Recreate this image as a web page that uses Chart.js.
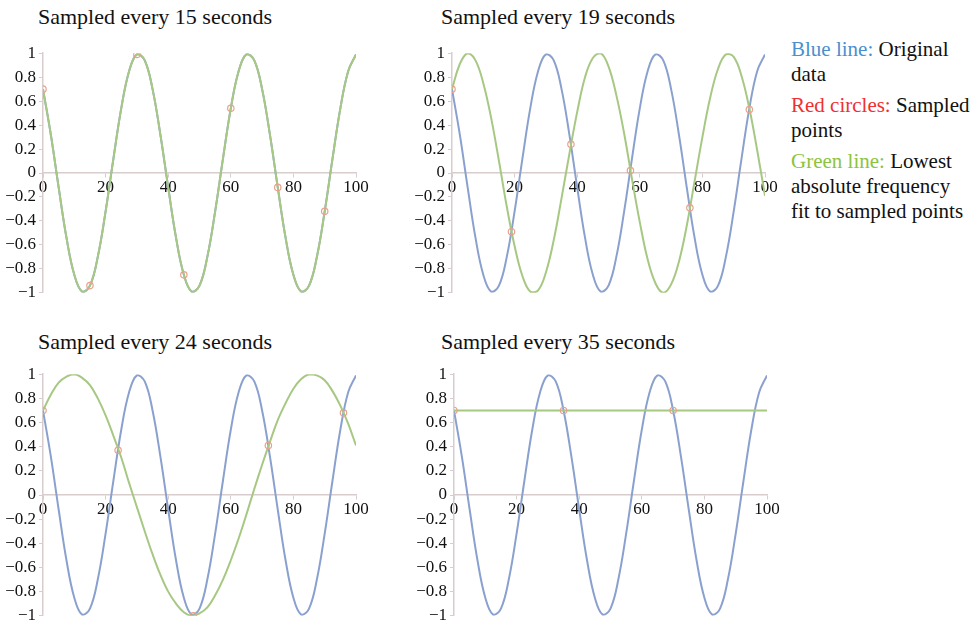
<!DOCTYPE html>
<html>
<head>
<meta charset="utf-8">
<script src="https://cdn.jsdelivr.net/npm/chart.js@4"></script>
<style>
  body { margin: 0; background: #fff; font-family: "Liberation Serif", serif; }
  .panel { position: absolute; width: 382px; height: 266px; }
  .title { position: absolute; font-size: 22px; color: #111; white-space: nowrap; }
  .key { position: absolute; left: 791px; top: 37px; font-size: 21px; line-height: 25px; color: #111; }
  .key p { margin: 0 0 6px 0; }
</style>
</head>
<body>
<div class="title" style="left:38px; top:4px;">Sampled every 15 seconds</div>
<div class="title" style="left:441px; top:4px;">Sampled every 19 seconds</div>
<div class="title" style="left:38px; top:329px;">Sampled every 24 seconds</div>
<div class="title" style="left:441px; top:329px;">Sampled every 35 seconds</div>

<div class="key">
  <p><span style="color:#4a8fd0">Blue line:</span> Original<br>data</p>
  <p><span style="color:#f03030">Red circles:</span> Sampled<br>points</p>
  <p><span style="color:#8cc43c">Green line:</span> Lowest<br>absolute frequency<br>fit to sampled points</p>
</div>

<div class="panel" style="left:-1px; top:40px;"><canvas id="p15"></canvas></div>
<div class="panel" style="left:408px; top:40px;"><canvas id="p19"></canvas></div>
<div class="panel" style="left:-1px; top:361px; height:268px;"><canvas id="p24"></canvas></div>
<div class="panel" style="left:410px; top:361px; height:268px;"><canvas id="p35"></canvas></div>

<script>
// time axis, every 2.5 s from 0 to 100
const times = [
  0, 2.5, 5, 7.5, 10, 12.5, 15, 17.5, 20, 22.5, 25, 27.5, 30, 32.5, 35, 37.5, 40,
  42.5, 45, 47.5, 50, 52.5, 55, 57.5, 60, 62.5, 65, 67.5, 70, 72.5, 75, 77.5, 80,
  82.5, 85, 87.5, 90, 92.5, 95, 97.5, 100
];

// original signal
const original = [
  0.70, 0.32, -0.12, -0.54, -0.85, -0.99, -0.94, -0.70, -0.32, 0.12, 0.54, 0.85, 0.99, 0.94,
  0.70, 0.32, -0.12, -0.54, -0.85, -0.99, -0.94, -0.70, -0.32, 0.12, 0.54, 0.85, 0.99, 0.94,
  0.70, 0.32, -0.12, -0.54, -0.85, -0.99, -0.94, -0.70, -0.32, 0.12, 0.54, 0.85, 0.99
];

// lowest frequency fits
const fit15 = [
  0.70, 0.32, -0.12, -0.54, -0.85, -0.99, -0.94, -0.70, -0.32, 0.12, 0.54, 0.85, 0.99, 0.94,
  0.70, 0.32, -0.12, -0.54, -0.85, -0.99, -0.94, -0.70, -0.32, 0.12, 0.54, 0.85, 0.99, 0.94,
  0.70, 0.32, -0.12, -0.54, -0.85, -0.99, -0.94, -0.70, -0.32, 0.12, 0.54, 0.85, 0.99
];
const fit19 = [
  0.70, 0.91, 1.00, 0.94, 0.75, 0.46, 0.10, -0.28, -0.61, -0.86, -0.99, -0.98, -0.83, -0.56,
  -0.21, 0.16, 0.51, 0.80, 0.96, 1.00, 0.89, 0.65, 0.33, -0.05, -0.41, -0.72, -0.92, -1.00,
  -0.93, -0.74, -0.44, -0.07, 0.30, 0.63, 0.87, 0.99, 0.97, 0.81, 0.54, 0.19, -0.19
];
const fit24 = [
  0.70, 0.83, 0.93, 0.98, 1.00, 0.97, 0.91, 0.80, 0.66, 0.49, 0.31, 0.10, -0.10, -0.30,
  -0.49, -0.66, -0.80, -0.90, -0.97, -1.00, -0.98, -0.93, -0.83, -0.70, -0.54, -0.36, -0.16, 0.05,
  0.25, 0.44, 0.62, 0.76, 0.88, 0.96, 1.00, 0.99, 0.95, 0.86, 0.74, 0.59, 0.41
];
const fit35 = [0.70, 0.70];
const fit35Times = [0, 100];

// sampled points
const samples15T = [0, 15, 30, 45, 60, 75, 90];
const samples15V = [0.70, -0.94, 0.99, -0.85, 0.54, -0.12, -0.32];
const samples19T = [0, 19, 38, 57, 76, 95];
const samples19V = [0.70, -0.49, 0.24, 0.02, -0.29, 0.53];
const samples24T = [0, 24, 48, 72, 96];
const samples24V = [0.70, 0.37, -1.00, 0.41, 0.68];
const samples35T = [0, 35, 70];
const samples35V = [0.70, 0.70, 0.70];

const blue = '#8aa1cf';
const green = '#a7c883';
const red = '#e9a18c';
const axisGrey = '#d8cccc';
const serif = '"Liberation Serif", serif';

const pairs = (xs, ys) => xs.map((x, i) => ({ x: x, y: ys[i] }));

const fmt = v => {
  const r = Math.round(v * 10) / 10;
  if (r === 0) return '0';
  return r.toString().replace('-', '\u2212');
};

const drawPanel = (id, fitT, fitV, sampT, sampV) => {
  const ctx = document.getElementById(id).getContext('2d');
  new Chart(ctx, {
    type: 'line',
    data: {
      datasets: [
        {
          label: 'Sampled points',
          data: pairs(sampT, sampV),
          showLine: false,
          pointRadius: 3.2,
          pointBorderWidth: 1.2,
          pointBorderColor: red,
          pointBackgroundColor: 'rgba(255,255,255,0)'
        },
        {
          label: 'Fit',
          data: pairs(fitT, fitV),
          borderColor: green,
          borderWidth: 2,
          pointRadius: 0,
          tension: 0.4,
          fill: false
        },
        {
          label: 'Original',
          data: pairs(times, original),
          borderColor: blue,
          borderWidth: 2,
          pointRadius: 0,
          tension: 0.4,
          fill: false
        }
      ]
    },
    options: {
      responsive: true,
      maintainAspectRatio: false,
      animation: false,
      layout: { padding: { top: 12, bottom: 12, left: 0, right: 25 } },
      plugins: { legend: { display: false }, tooltip: { enabled: false } },
      scales: {
        x: {
          type: 'linear',
          position: { y: 0 },
          min: 0,
          max: 100,
          ticks: { stepSize: 20, color: '#111', padding: 0, font: { family: serif, size: 17 } },
          grid: { display: true, drawOnChartArea: false, drawTicks: true, tickLength: 4, color: axisGrey },
          border: { color: axisGrey, width: 1.5 }
        },
        y: {
          min: -1,
          max: 1,
          afterFit: scale => { scale.width = 44; },
          ticks: { stepSize: 0.2, color: '#111', padding: 3, callback: fmt, font: { family: serif, size: 17 } },
          grid: { display: true, drawOnChartArea: false, drawTicks: true, tickLength: 4, color: axisGrey },
          border: { color: axisGrey, width: 1.5 }
        }
      }
    }
  });
};

drawPanel('p15', times, fit15, samples15T, samples15V);
drawPanel('p19', times, fit19, samples19T, samples19V);
drawPanel('p24', times, fit24, samples24T, samples24V);
drawPanel('p35', fit35Times, fit35, samples35T, samples35V);
</script>
</body>
</html>
